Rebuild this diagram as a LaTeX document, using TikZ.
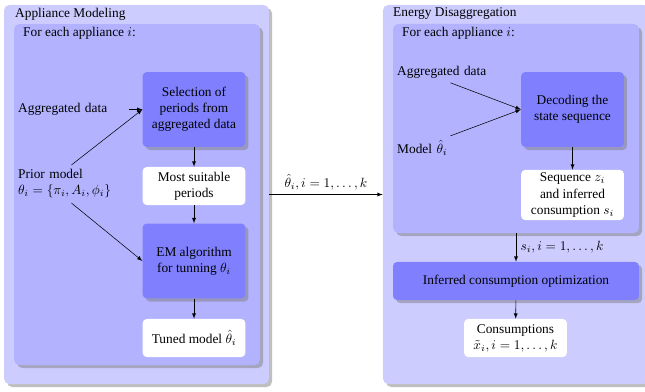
\documentclass[tikz,border=0pt]{standalone}
\usepackage{fontspec}
\setmainfont{Liberation Serif}
\usetikzlibrary{shadows}

\begin{document}
\begin{tikzpicture}[x=0.02631cm, y=-0.02631cm,
    outerbox/.style={fill=blue!20, rounded corners=4pt, drop shadow},
    innerbox/.style={fill=blue!30, rounded corners=4pt, drop shadow},
    stepbox/.style={fill=blue!50, rounded corners=3pt, drop shadow, align=center,
        minimum width=2.7cm, minimum height=1.97cm},
    resbox/.style={fill=white, rounded corners=3pt, align=center,
        minimum width=2.7cm, minimum height=1cm},
    inlabel/.style={anchor=west, text width=2.8cm, align=left},
    boxtitle/.style={anchor=west},
    arr/.style={-latex}]
    \useasboundingbox (0,0) rectangle (645,391);

    % Appliance modeling
    \node[outerbox, minimum width=6.97cm, minimum height=9.97cm] (model) at (136.5,194.5) {};
    \node[innerbox, minimum width=6.47cm, minimum height=8.97cm] (modelin) at (137,194.5) {};
    \node[boxtitle] (modeltitle) at (10.5,14) {Appliance Modeling};
    \node[boxtitle] (modelfor) at (18.5,33) {For each appliance $i$:};

    \node[stepbox] (select) at (194,109.5) {Selection of\\ periods from\\ aggregated data};
    \node[resbox] (periods) at (194,186) {Most suitable\\ periods};
    \node[stepbox] (em) at (194,261) {EM algorithm\\ for tunning $\theta_i$};
    \node[resbox] (tuned) at (194,338) {Tuned model $\hat{\theta}_i$};
    \node[inlabel] (aggA) at (13.5,109.5) {Aggregated data};
    \node[inlabel] (prior) at (13.5,184) {Prior model\\ $\theta_i=\{\pi_i,A_i,\phi_i\}$};

    % Energy disaggregation
    \node[outerbox, minimum width=7cm, minimum height=9.97cm] (disagg) at (516,194.5) {};
    \node[innerbox, minimum width=6.47cm, minimum height=5.5cm] (disaggin) at (516,128.5) {};
    \node[boxtitle] (disaggtitle) at (388.5,14) {Energy Disaggregation};
    \node[boxtitle] (disaggfor) at (397.5,33) {For each appliance $i$:};

    \node[stepbox] (decode) at (572.5,109.5) {Decoding the\\ state sequence};
    \node[resbox, minimum height=1.32cm, inner sep=1.5pt] (seq) at (572.5,195) {Sequence $z_i$\\ and inferred\\ consumption $s_i$};
    \node[inlabel] (aggB) at (392.5,72) {Aggregated data};
    \node[inlabel] (modelB) at (392.5,148) {Model $\hat{\theta}_i$};
    \node[stepbox, minimum width=6.47cm, minimum height=1cm] (opt) at (516,281) {Inferred consumption optimization};
    \node[resbox] (cons) at (515.5,338) {Consumptions\\ $\tilde{x}_i, i=1,\ldots,k$};

    % Arrows
    \draw[arr] (aggA.east) -- (select.west);
    \draw[arr] (prior.north) -- (select.west);
    \draw[arr] (prior.south) -- (em.west);
    \draw[arr] (select) -- (periods);
    \draw[arr] (periods) -- (em);
    \draw[arr] (em) -- (tuned);
    \draw[arr] (model.east) -- node[above] (thetalabel) {$\hat{\theta}_i, i=1,\ldots,k$} (disagg.west);
    \draw[arr] (aggB.south) -- (decode.west);
    \draw[arr] (modelB.north) -- (decode.west);
    \draw[arr] (decode) -- (seq);
    \draw[arr] (disaggin) -- node[right] (slabel) {$s_i, i=1,\ldots,k$} (opt);
    \draw[arr] (opt) -- (cons);
\end{tikzpicture}
\end{document}
